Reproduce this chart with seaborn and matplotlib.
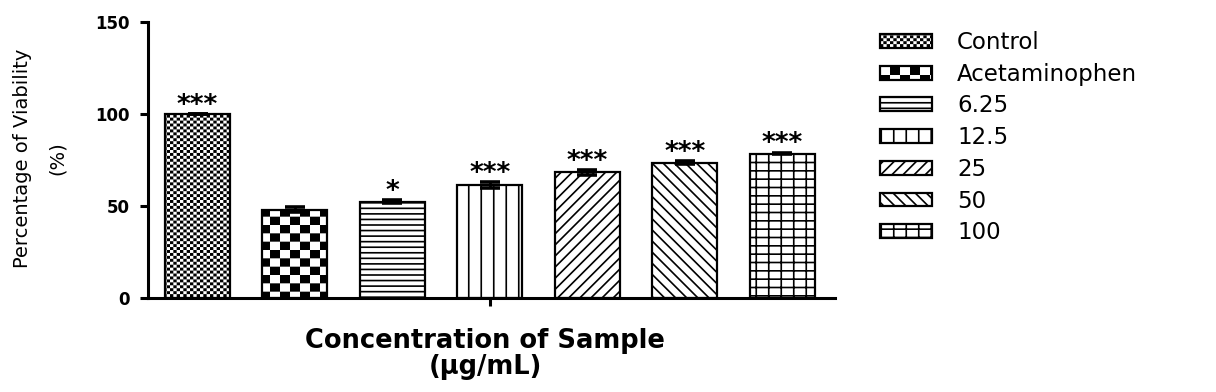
import numpy as np
import pandas as pd
import matplotlib
matplotlib.use("Agg")
import matplotlib.pyplot as plt
import matplotlib.hatch as mhatch
from matplotlib.path import Path
from matplotlib import font_manager as fm
import seaborn as sns

# ---------------- data ----------------
groups = ["Control", "Acetaminophen", "6.25", "12.5", "25", "50", "100"]
viability = [100.0, 48.0, 52.3, 61.4, 68.3, 73.5, 78.5]
sem = [0.0, 1.2, 0.7, 1.5, 1.3, 0.8, 0.5]
signif = ["***", "", "*", "***", "***", "***", "***"]
yticks = [0, 50, 100, 150]
xlabel = "Concentration of Sample\n(\u00b5g/mL)"
ylabel = "Percentage of Viability\n(%)"

# hatch codes per bar (custom hatch patterns registered below)
hatches = [".", "O", "---", "|", "///", "\\\\\\", "+"]

HATCH_LW = 1.2  # points


# ---------------- custom hatch patterns ----------------
class CheckerHatch(mhatch.HatchPatternBase):
    specs = {".": (30, 34), "O": (10, 12)}

    def __init__(self, hatch, density):
        self.nx = self.ny = 0
        if hatch is not None:
            for ch, (nx, ny) in self.specs.items():
                if ch in hatch:
                    self.nx, self.ny = nx, ny
        if self.nx:
            self.cells = [(i, j) for i in range(self.nx) for j in range(self.ny)
                          if (i + j) % 2 == 0]
            self.num_vertices = len(self.cells) * 5
        else:
            self.cells = []
            self.num_vertices = 0

    def set_vertices_and_codes(self, vertices, codes):
        w, h = 1.0 / self.nx, 1.0 / self.ny
        inset = HATCH_LW / 72.0 / 2.0
        k = 0
        for i, j in self.cells:
            x0, y0 = i * w + inset, j * h + inset
            x1, y1 = (i + 1) * w - inset, (j + 1) * h - inset
            vertices[k:k + 5] = [(x0, y0), (x1, y0), (x1, y1), (x0, y1), (x0, y0)]
            codes[k:k + 5] = [Path.MOVETO, Path.LINETO, Path.LINETO,
                              Path.LINETO, Path.CLOSEPOLY]
            k += 5


class GridHatch(mhatch.HatchPatternBase):
    specs = {"|": (8, 0), "+": (8, 12), "---": (0, 18)}

    def __init__(self, hatch, density):
        self.nv, self.nh = self.specs.get(hatch, (0, 0)) if hatch else (0, 0)
        self.num_vertices = 2 * (self.nv + self.nh)

    def set_vertices_and_codes(self, vertices, codes):
        k = 0
        for n, vertical in ((self.nv, True), (self.nh, False)):
            if n == 0:
                continue
            steps, step = np.linspace(0.0, 1.0, n, endpoint=False, retstep=True)
            steps = steps + step / 2.0
            for s in steps:
                if vertical:
                    vertices[k:k + 2] = [(s, 0.0), (s, 1.0)]
                else:
                    vertices[k:k + 2] = [(0.0, s), (1.0, s)]
                codes[k:k + 2] = [Path.MOVETO, Path.LINETO]
                k += 2


mhatch._hatch_types = [GridHatch, CheckerHatch,
                       mhatch.NorthEastHatch, mhatch.SouthEastHatch]

# ---------------- style ----------------
sns.set_style("ticks")
plt.rcParams["font.family"] = ["DejaVu Sans"]
plt.rcParams["hatch.linewidth"] = HATCH_LW
plt.rcParams["hatch.color"] = "black"
for key in ("text.color", "axes.labelcolor", "xtick.color", "ytick.color",
            "axes.edgecolor"):
    plt.rcParams[key] = "black"

names = {f.name for f in fm.fontManager.ttflist}
narrow = "Liberation Sans Narrow" if "Liberation Sans Narrow" in names else "DejaVu Sans"

df = pd.DataFrame({"group": groups, "viability": viability})

fig = plt.figure(figsize=(12.16, 3.92), dpi=100)
ax = fig.add_axes([148 / 1216, 1 - 298 / 392, (835 - 148) / 1216, (298 - 22) / 392])

sns.barplot(data=df, x="group", y="viability", hue="group", order=groups,
            hue_order=groups, palette=["white"] * len(groups), saturation=1,
            edgecolor="black", linewidth=1.6, width=0.667, errorbar=None,
            legend=False, ax=ax)

bars = []
for cont, h in zip(ax.containers, hatches):
    for bar in cont:
        bar.set_hatch(h)
        bar.set_edgecolor("black")
        bars.append(bar)

centers = [b.get_x() + b.get_width() / 2 for b in bars]
ax.errorbar(centers, viability, yerr=sem, fmt="none", ecolor="black",
            elinewidth=2.0, capsize=7, capthick=2.6, zorder=5)

for xc, v, e, s in zip(centers, viability, sem, signif):
    if s:
        ax.annotate(s, xy=(xc, v + e), xytext=(0, 1), textcoords="offset points",
                    ha="center", va="baseline", fontsize=19, fontweight="bold",
                    color="black")

ax.set_ylim(0, 150)
ax.set_xlim(-0.508, len(groups) - 1 + 0.54)
ax.set_yticks(yticks)
ax.set_yticklabels([str(t) for t in yticks], fontsize=12, fontweight="bold")
ax.set_xticks([centers[len(centers) // 2]])
ax.set_xticklabels([""])
ax.tick_params(axis="both", direction="out", length=6, width=2.2, pad=7,
               color="black", labelcolor="black")

for side in ("top", "right"):
    ax.spines[side].set_visible(False)
for side in ("left", "bottom"):
    ax.spines[side].set_linewidth(2.2)
    ax.spines[side].set_color("black")

ax.set_xlabel(xlabel, fontsize=18.5, fontweight="bold", linespacing=1.05,
              color="black")
ax.xaxis.set_label_coords((485 - 148) / 687, (298 - 354) / 276)
ax.xaxis.label.set_va("center")

ax.set_ylabel(ylabel, fontsize=19 if narrow != "DejaVu Sans" else 14,
              family=narrow, linespacing=2.1, ha="center", multialignment="center",
              color="black")
ax.yaxis.set_label_coords((40 - 148) / 687, (298 - 158) / 276)
ax.yaxis.label.set_va("center")

fig.legend(handles=bars, labels=groups, loc="upper left",
           bbox_to_anchor=(880 / 1216, 1 - 31 / 392), frameon=False,
           fontsize=16.5, handlelength=2.27, handleheight=0.55,
           handletextpad=1.1, labelspacing=0.38, borderpad=0, borderaxespad=0,
           labelcolor="black")

fig.savefig("out.png", dpi=100)
